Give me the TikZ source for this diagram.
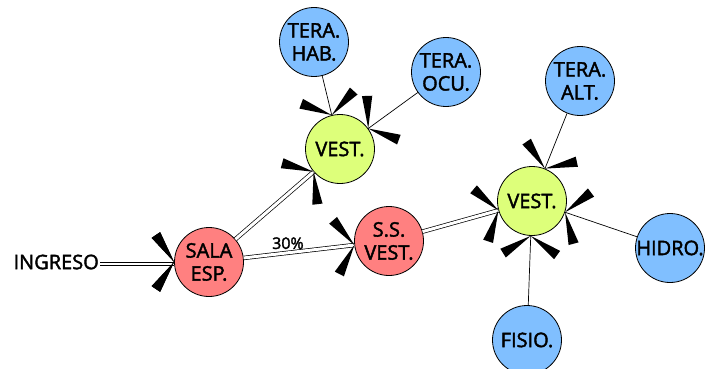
\documentclass[tikz,border=0pt]{standalone}
\usepackage{fontspec}
\setmainfont{Open Sans}[FakeBold=2]
\usetikzlibrary{arrows.meta}
\definecolor{mSalmon}{HTML}{FF8080}
\definecolor{mLime}{HTML}{DDFF7A}
\definecolor{mSky}{HTML}{80BFFF}

% two black wedges spreading back from the tip
\pgfdeclarearrow{
  name = Fork,
  setup code = {
    \pgfarrowssettipend{0pt}
    \pgfarrowssetlineend{0pt}
    \pgfarrowssetbackend{-20pt}
    \pgfarrowshullpoint{0pt}{0pt}
    \pgfarrowshullpoint{-20pt}{30pt}
    \pgfarrowshullpoint{-20pt}{-30pt}
  },
  drawing code = {
    \pgfpathmoveto{\pgfpointorigin}
    \pgfpathlineto{\pgfpointpolar{115}{33pt}}
    \pgfpathlineto{\pgfpointpolar{133}{33pt}}
    \pgfpathclose
    \pgfpathmoveto{\pgfpointorigin}
    \pgfpathlineto{\pgfpointpolar{227}{33pt}}
    \pgfpathlineto{\pgfpointpolar{245}{33pt}}
    \pgfpathclose
    \pgfusepathqfill
  }
}

\tikzset{
  station/.style={circle, draw, line width=0.8pt, minimum size=69pt, inner sep=0pt,
    align=center, font=\fontsize{20}{23}\selectfont},
  link/.style={-Fork, line width=0.7pt},
  dlink/.style={-Fork, line width=0.7pt, double, double distance=3pt},
  tlink/.style={-Fork, line width=0.7pt, double, double distance=5.6pt}
}

\begin{document}
\begin{tikzpicture}[x=1pt, y=-1pt]
  \path[use as bounding box, clip] (0,0) rectangle (712,369);
  % entry and waiting room
  \node[anchor=east, inner sep=1pt, font=\fontsize{20}{23}\selectfont] (ingreso) at (100,262) {INGRESO};
  \node[station, fill=mSalmon] (sala) at (209,262) {SALA\\ESP.};
  \node[station, fill=mSalmon] (ssvest) at (389,241) {S.S.\\VEST.};
  % dressing rooms
  \node[station, fill=mLime] (vesta) at (340,149) {VEST.};
  \node[station, fill=mLime] (vestb) at (532,201) {VEST.};
  % therapies
  \node[station, fill=mSky] (hab) at (314,42) {TERA.\\HAB.};
  \node[station, fill=mSky] (ocu) at (446,72) {TERA.\\OCU.};
  \node[station, fill=mSky] (alt) at (580,81) {TERA.\\ALT.};
  \node[station, fill=mSky] (hidro) at (670,248) {HIDRO.};
  \node[station, fill=mSky] (fisio) at (527,340) {FISIO.};

  \draw[tlink] (ingreso) -- (sala);
  \draw[link] (ingreso) -- (sala);
  \draw[dlink] (sala) -- (vesta);
  \draw[dlink] (sala) -- node[above, font=\fontsize{16}{18}\selectfont, pos=0.4] (pct) {30\%} (ssvest);
  \draw[dlink] (ssvest) -- (vestb);
  \draw[link] (hab) -- (vesta);
  \draw[link] (ocu) -- (vesta);
  \draw[link] (alt) -- (vestb);
  \draw[link] (hidro) -- (vestb);
  \draw[link] (fisio) -- (vestb);
\end{tikzpicture}
\end{document}
